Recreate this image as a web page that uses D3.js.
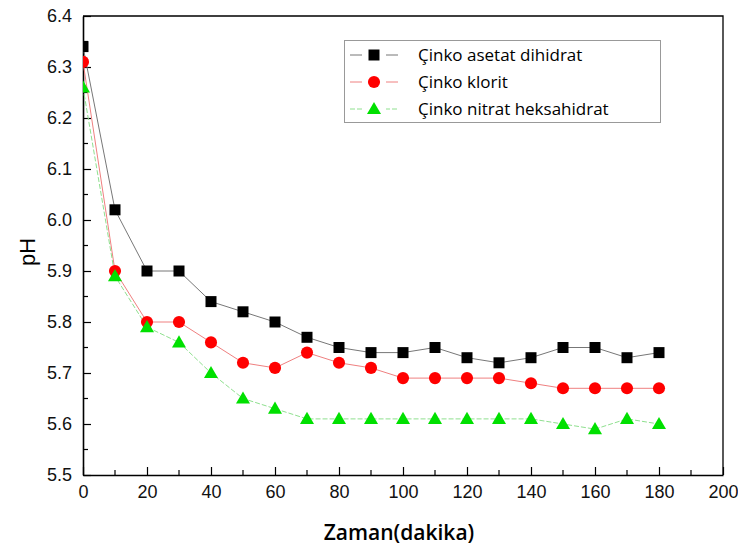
<!DOCTYPE html>
<html>
<head>
<meta charset="utf-8">
<script src="https://cdn.jsdelivr.net/npm/d3@7"></script>
<style>
  html, body { margin: 0; padding: 0; background: #fff; }
  svg { display: block; }
</style>
</head>
<body>
<svg id="chart" width="738" height="550"></svg>
<script>
// Time points (minutes) and pH readings for the three zinc precursors
const times = [0, 10, 20, 30, 40, 50, 60, 70, 80, 90, 100, 110, 120, 130, 140, 150, 160, 170, 180];
const asetat = [6.34, 6.02, 5.90, 5.90, 5.84, 5.82, 5.80, 5.77, 5.75, 5.74, 5.74, 5.75, 5.73, 5.72, 5.73, 5.75, 5.75, 5.73, 5.74];
const klorit = [6.31, 5.90, 5.80, 5.80, 5.76, 5.72, 5.71, 5.74, 5.72, 5.71, 5.69, 5.69, 5.69, 5.69, 5.68, 5.67, 5.67, 5.67, 5.67];
const nitrat = [6.26, 5.89, 5.79, 5.76, 5.70, 5.65, 5.63, 5.61, 5.61, 5.61, 5.61, 5.61, 5.61, 5.61, 5.61, 5.60, 5.59, 5.61, 5.60];
const seriesNames = ["Çinko asetat dihidrat", "Çinko klorit", "Çinko nitrat heksahidrat"];
const xTicks = [0, 20, 40, 60, 80, 100, 120, 140, 160, 180, 200];
const yTicks = [5.5, 5.6, 5.7, 5.8, 5.9, 6.0, 6.1, 6.2, 6.3, 6.4];
const xTitle = "Zaman(dakika)";
const yTitle = "pH";

const svg = d3.select("#chart");
const plotL = 83, plotR = 723, plotT = 16, plotB = 475;

const x = d3.scaleLinear().domain([0, 200]).range([plotL, plotR]);
const y = d3.scaleLinear().domain([5.5, 6.4]).range([plotB, plotT]);

const styles = [
  { line: "#777", fill: "#000", shape: d3.symbolSquare, size: 121, dash: null },
  { line: "#ef8080", fill: "#ff0000", shape: d3.symbolCircle, size: 115, dash: null },
  { line: "#8fe08f", fill: "#00e000", shape: d3.symbolTriangle, size: 85, dash: "5,2" }
];
const seriesData = [asetat, klorit, nitrat];

svg.append("defs").append("clipPath").attr("id", "plotclip")
  .append("rect").attr("x", plotL).attr("y", plotT)
  .attr("width", plotR - plotL).attr("height", plotB - plotT);

// Axes with inward ticks
const tickFont = "Liberation Sans, Arial, sans-serif";
const xMinor = d3.range(10, 200, 20);
const yMinor = d3.range(5.55, 6.4, 0.1);

const gx = svg.append("g").attr("transform", `translate(0,${plotB})`)
  .call(d3.axisBottom(x).tickValues(xTicks).tickSizeInner(-8).tickSizeOuter(0).tickPadding(10).tickFormat(d3.format("d")));
gx.selectAll("text").attr("font-family", tickFont).attr("font-size", 18).attr("fill", "#111");
gx.append("g").selectAll("line").data(xMinor).join("line")
  .attr("x1", d => x(d)).attr("x2", d => x(d)).attr("y1", 0).attr("y2", -5)
  .attr("stroke", "#000").attr("stroke-width", 1.2);

const gy = svg.append("g").attr("transform", `translate(${plotL},0)`)
  .call(d3.axisLeft(y).tickValues(yTicks).tickSizeInner(-8).tickSizeOuter(0).tickPadding(11).tickFormat(d3.format(".1f")));
gy.selectAll("text").attr("font-family", tickFont).attr("font-size", 18).attr("fill", "#111");
gy.append("g").selectAll("line").data(yMinor).join("line")
  .attr("y1", d => y(d)).attr("y2", d => y(d)).attr("x1", 0).attr("x2", 5)
  .attr("stroke", "#000").attr("stroke-width", 1.2);

[gx, gy].forEach(g => {
  g.selectAll(".domain").attr("stroke", "#000").attr("stroke-width", 1.6);
  g.selectAll(".tick line").attr("stroke", "#000").attr("stroke-width", 1.2);
});

// Frame top and right
svg.append("path")
  .attr("d", `M${plotL},${plotT}H${plotR}V${plotB}`)
  .attr("fill", "none").attr("stroke", "#000").attr("stroke-width", 1.3);

// Series lines and markers
const plot = svg.append("g").attr("clip-path", "url(#plotclip)");
const line = d3.line().x((d, i) => x(times[i])).y(d => y(d));

seriesData.forEach((vals, k) => {
  const st = styles[k];
  plot.append("path").datum(vals)
    .attr("d", line).attr("fill", "none")
    .attr("stroke", st.line).attr("stroke-width", 1)
    .attr("stroke-dasharray", st.dash);
});
seriesData.forEach((vals, k) => {
  const st = styles[k];
  plot.append("g").selectAll("path").data(vals).join("path")
    .attr("transform", (d, i) => `translate(${x(times[i])},${y(d) + (k === 2 ? 1 : 0)})`)
    .attr("d", d3.symbol().type(st.shape).size(st.size))
    .attr("fill", st.fill);
});

// Legend
const lg = svg.append("g");
lg.append("rect").attr("x", 344.5).attr("y", 40.5).attr("width", 316).attr("height", 82)
  .attr("fill", "#fff").attr("stroke", "#999").attr("stroke-width", 1);
const rowsY = [55, 82, 109];
const legendFont = "'Open Sans', 'Noto Sans', sans-serif";
seriesNames.forEach((name, k) => {
  const st = styles[k];
  const ry = rowsY[k];
  lg.append("line").attr("x1", 350).attr("x2", 398).attr("y1", ry).attr("y2", ry)
    .attr("stroke", st.line).attr("stroke-width", 1).attr("stroke-dasharray", st.dash);
  lg.append("rect").attr("x", 362).attr("y", ry - 4).attr("width", 24).attr("height", 8).attr("fill", "#fff");
  lg.append("path").attr("transform", `translate(374,${ry + (k === 2 ? 1 : 0)})`)
    .attr("d", d3.symbol().type(st.shape).size(st.size)).attr("fill", st.fill);
  lg.append("text").attr("x", 418).attr("y", ry + 6)
    .attr("font-family", legendFont).attr("font-size", 17).attr("font-weight", 500).attr("fill", "#000")
    .text(name);
});

// Axis titles
svg.append("text").attr("x", 399).attr("y", 540).attr("text-anchor", "middle")
  .attr("font-family", legendFont).attr("font-size", 21).attr("font-weight", 600)
  .attr("fill", "#000").text(xTitle);
svg.append("text").attr("transform", "translate(35,252) rotate(-90)")
  .attr("text-anchor", "middle").attr("font-family", tickFont).attr("font-size", 22)
  .attr("fill", "#000").text(yTitle);
</script>
</body>
</html>
